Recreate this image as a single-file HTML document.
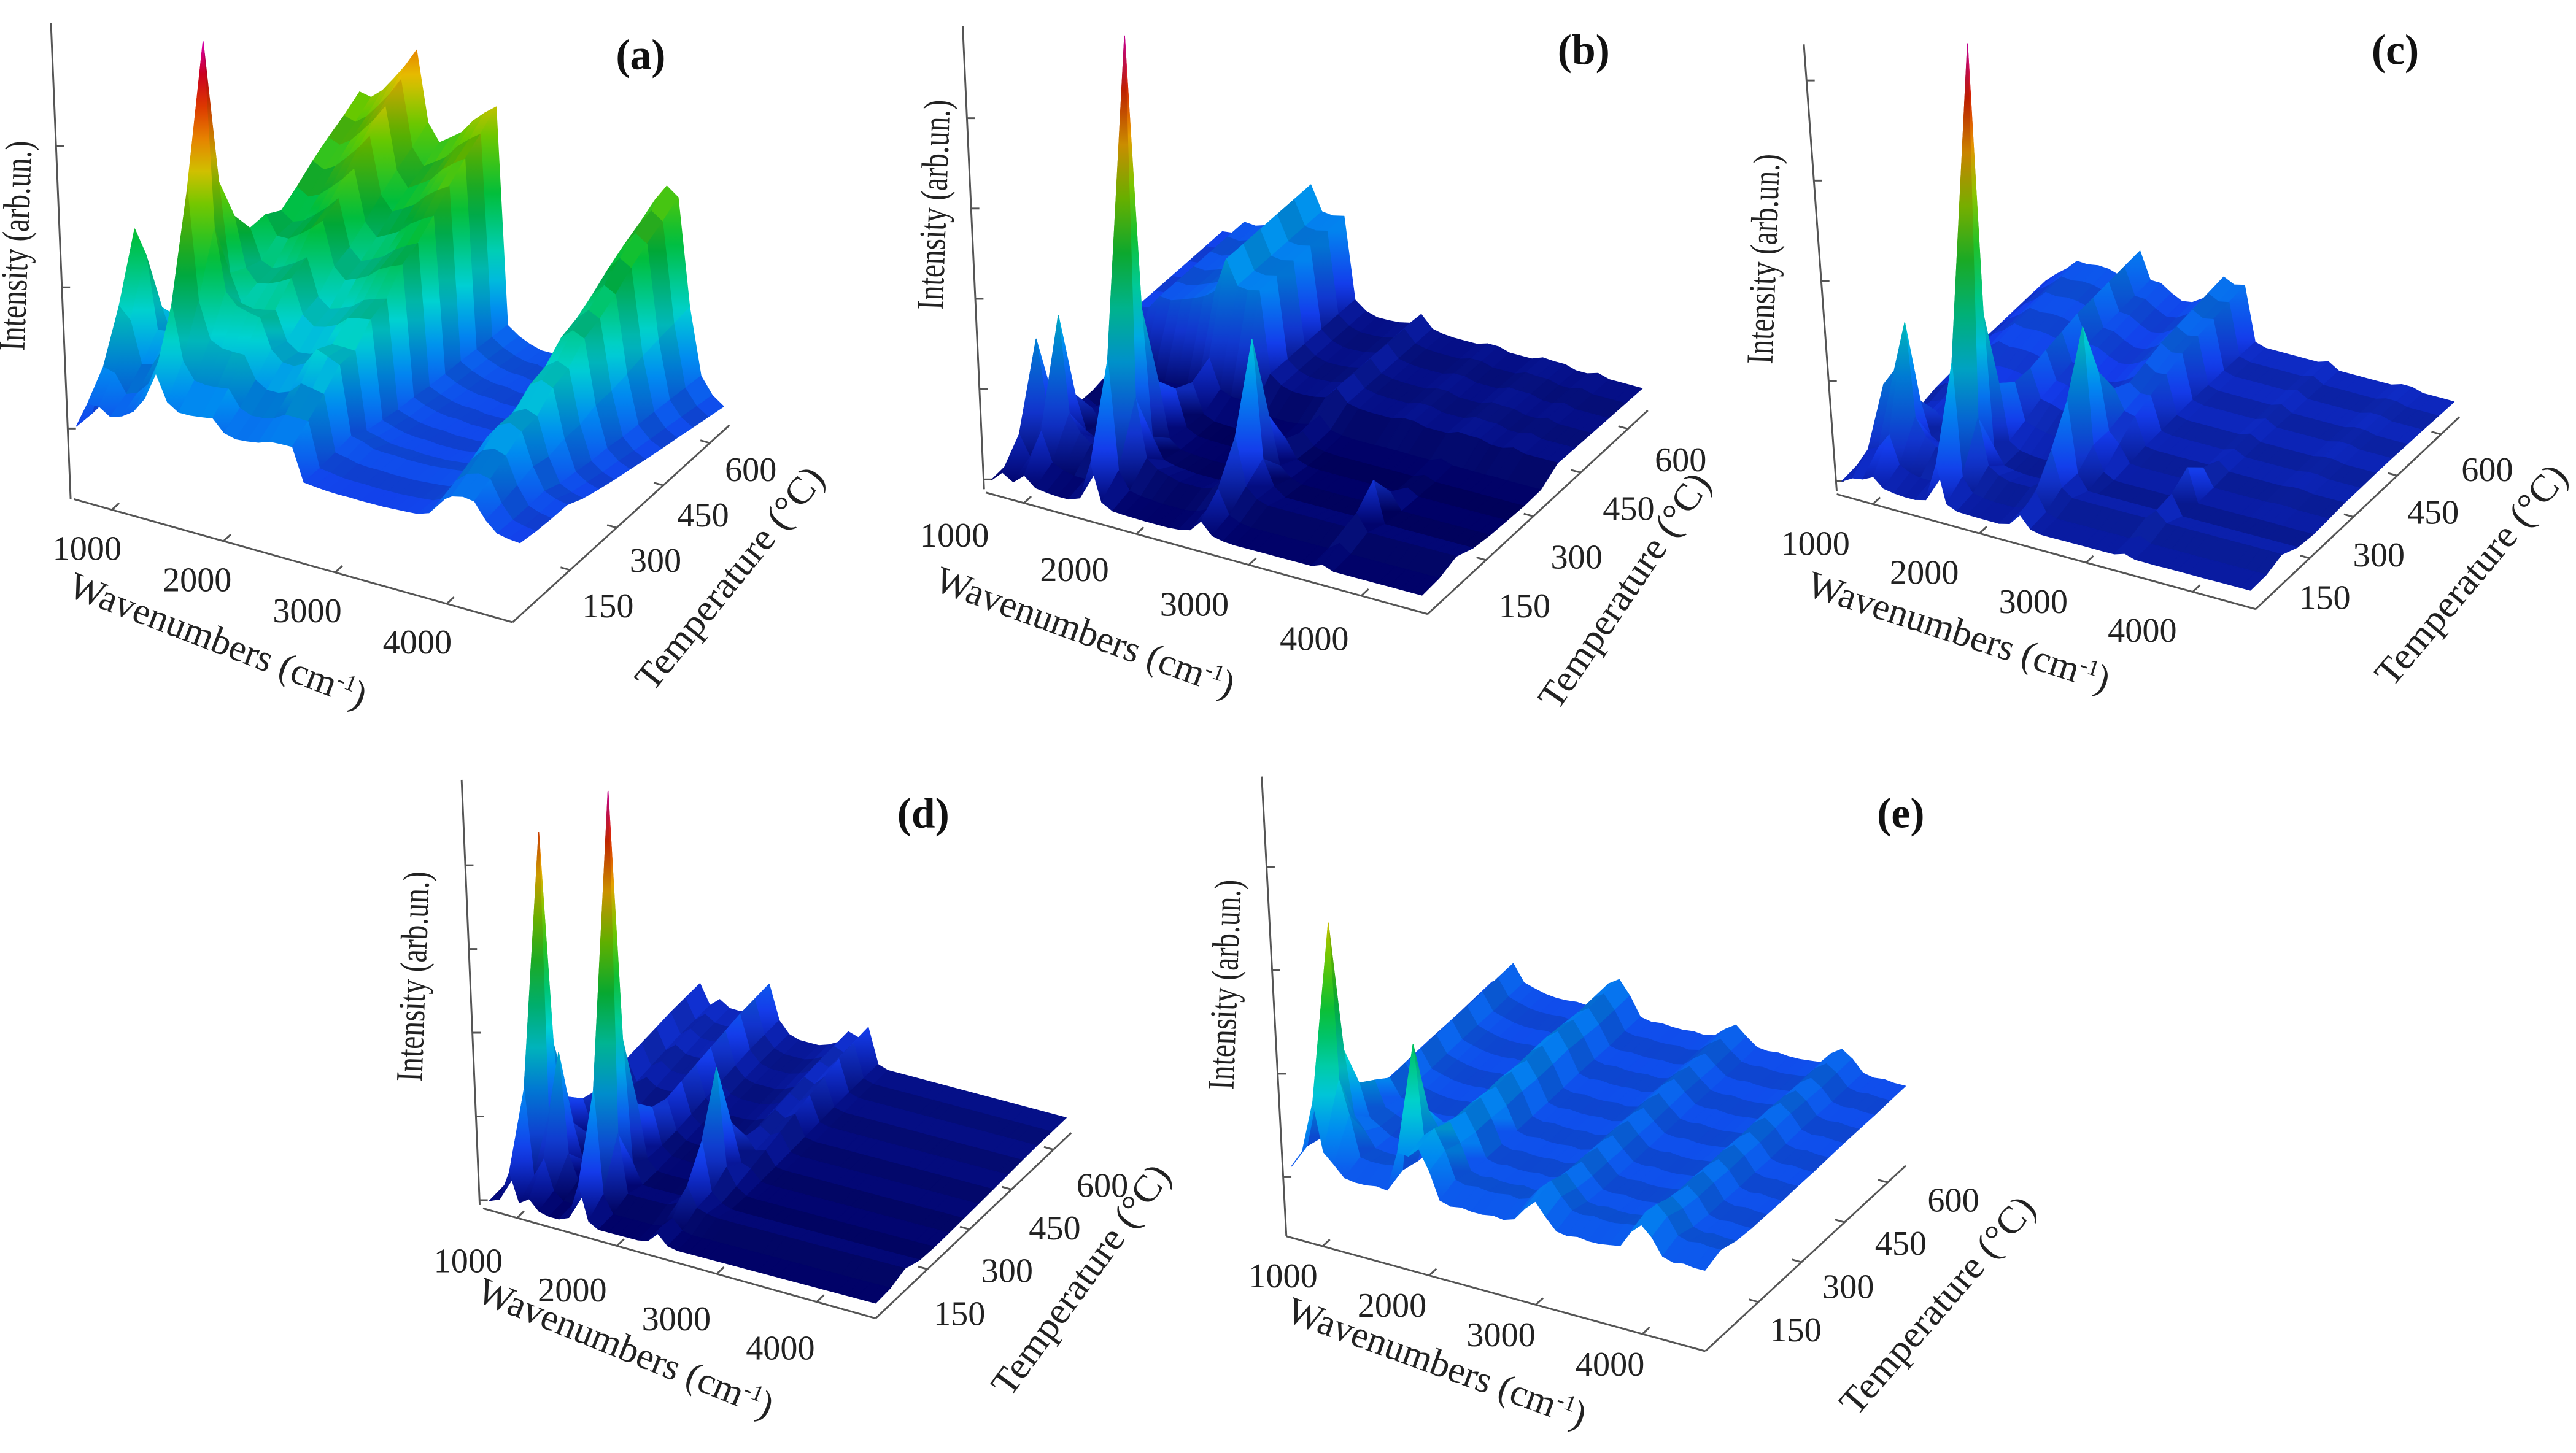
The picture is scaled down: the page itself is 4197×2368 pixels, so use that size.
<!DOCTYPE html>
<html>
<head>
<meta charset="utf-8">
<title>Temperature-dependent IR spectra – 3D surfaces</title>
<style>
html,body{margin:0;padding:0;background:#fff;}
svg{display:block;}
text{font-family:"Liberation Serif",serif;fill:#222;}
.tick{font-size:21px;}
.title{font-size:23px;}
.letter{font-size:26px;font-weight:bold;fill:#111;}
.axis{stroke:#555;stroke-width:1.1;fill:none;}
</style>
</head>
<body>
<svg id="fig" width="4197" height="2368" viewBox="0 0 1568 885" preserveAspectRatio="none" xmlns="http://www.w3.org/2000/svg">
<defs id="grads"></defs>
<rect x="0" y="0" width="1568" height="885" fill="#fff"/>
</svg>
<script>
// ---------- shared grid ----------
const wavenumbers = [700,800,900,1000,1100,1200,1300,1400,1500,1600,1700,1800,1900,2000,2100,2200,2300,2400,2500,2600,2700,2800,2900,3000,3100,3200,3300,3400,3500,3600,3700,3800,3900,4000,4100,4200,4300,4400,4500,4600];
const temperatures = [0,50,100,150,200,250,300,350,400,450,500,550,600,650];
const wnTicks = [1000,2000,3000,4000];
const tTicks = [150,300,450,600];

// ---------- panel (a) ----------
const aSpec1 = [10,100,80,30,25,40,90,195,80,40,30,25,20,15,12,10,12,20,15,10,8,8,6,6,6,6,6,6,6,6,6,6,8,8,8,6,6,5,5,5];
const aGain1 = [0.15,0.3,0.6,1,0.5,0.3,0.2,0.15,0.1,0.1,0.1,0.1,0.1,0.1];
const aSpec2 = [5,20,40,60,80,95,110,120,130,140,150,160,172,130,120,125,130,138,145,151,20,15,12,10,10,8,8,8,10,12,15,30,90,120,130,125,60,20,10,5];
const aGain2 = [0.15,0.2,0.25,0.3,0.35,0.45,0.5,0.6,0.65,0.72,0.8,0.87,0.93,1];

// ---------- panel (b) ----------
const bSpec1 = [5,70,30,88,30,20,15,15,40,269,50,15,10,8,6,6,6,6,6,6,6,6,6,6,6,6,6,6,6,6,6,6,6,6,6,6,6,6,6,6];
const bGain1 = [0.1,0.3,1,0.35,0.15,0.1,0.08,0.08,0.08,0.08,0.08,0.08,0.08,0.08];
const bSpec2 = [0,0,0,0,0,0,0,0,0,0,0,0,0,0,0,0,0,5,20,91,20,5,0,0,0,0,0,0,0,0,25,0,0,0,0,0,0,0,0,0];
const bGain2 = [0.1,0.2,0.4,1,0.4,0.15,0.1,0.1,0.1,0.1,0.1,0.1,0.1,0.1];
const bSpec3 = [25,30,34,38,42,45,48,51,54,57,60,62,64,15,10,8,8,8,8,8,8,8,8,8,8,10,10,8,8,8,8,10,10,8,8,10,8,8,8,8];
const bGain3 = [0,0,0,0,0,0,0,0.1,1,1,1,1,1,1];

// ---------- panel (c) ----------
const cSpec1 = [8,45,55,86,30,20,15,15,30,266,40,12,8,6,6,6,6,6,6,6,6,6,6,6,6,6,6,6,6,6,6,6,6,6,6,6,6,6,6,6];
const cGain1 = [0.1,0.3,1,0.35,0.15,0.1,0.08,0.08,0.08,0.08,0.08,0.08,0.08,0.08];
const cSpec2 = [0,0,0,0,0,0,0,0,0,0,0,0,0,0,0,0,15,86,15,0,0,0,0,0,0,0,0,20,0,0,0,0,0,0,0,0,0,0,0,0];
const cGain2 = [0.1,0.15,0.3,0.6,1,0.5,0.2,0.1,0.1,0.1,0.1,0.1,0.1,0.1];
const cSpec3 = [15,18,22,26,30,32,32,30,28,28,30,32,28,25,26,30,34,38,42,45,12,10,10,10,10,10,10,10,8,8,8,8,8,8,10,10,8,8,8,8];
const cGain3 = [0,0,0,0,0.1,0.3,0.5,0.6,0.7,0.8,0.85,0.9,0.95,1];

// ---------- panel (d) ----------
const dSpec1 = [5,30,211,40,80,20,5,5,30,247,40,5,5,5,5,5,5,5,5,5,5,5,5,5,5,5,5,5,5,5,5,5,5,5,5,5,5,5,5,5];
const dGain1 = [0.1,0.3,1,0.35,0.15,0.1,0.08,0.08,0.08,0.08,0.08,0.08,0.08,0.08];
const dSpec2 = [0,0,0,0,0,0,0,0,0,0,0,0,0,0,0,0,12,72,12,0,0,0,0,0,0,0,0,0,0,0,0,0,0,0,0,0,0,0,0,0];
const dGain2 = [0.1,0.1,0.2,0.5,1,0.4,0.15,0.1,0.1,0.1,0.1,0.1,0.1,0.1];
const dSpec3 = [10,12,14,16,18,19,20,21,22,22,18,14,12,12,12,14,16,18,22,31,10,8,8,8,8,8,8,8,8,8,8,8,8,8,8,8,8,8,8,8];
const dGain3 = [0,0,0.05,0.1,0.2,0.3,0.4,0.5,0.6,0.7,0.8,0.9,0.95,1];

// ---------- panel (e) ----------
const eSpec1 = [5,40,143,50,30,5,5,5,5,5,81,5,5,5,5,5,5,5,5,5,5,5,5,5,5,5,5,5,5,5,5,5,5,5,5,5,5,5,5,5];
const eGain1 = [0.3,1,0.4,0.2,0.15,0.1,0.1,0.1,0.1,0.1,0.1,0.1,0.1,0.1];
const eSpec2 = [6,6,7,6,6,7,6,6,7,6,8,30,36,24,8,6,7,6,6,7,6,8,16,22,14,7,6,7,6,6,7,8,18,24,18,8,6,7,6,6];
const eGain2 = [1,1,0.95,0.9,0.9,0.85,0.85,0.8,0.8,0.8,0.75,0.7,0.7,0.7];

// ---------- layout (positions, not data) ----------
const panels = [
 {id:'a', O:[43,261], U:[277,72], V:[124,-79], comps:[[aSpec1,aGain1],[aSpec2,aGain2]], cmax:235, coff:0.12,
  vert:[[31,14],[43,304]], wnAx:[[45,304],[312,379]], tAx:[[312,379],[444,259]], iStep:86,
  wnLab:[[53,334],[254,391]], tLab:[[370,369],[457,286]],
  wnTitle:[130,397,21], tTitle:[450,357,-51], iTitle:[17,150], letter:[390,34]},
 {id:'b', O:[600,292], U:[269,72], V:[134,-118], comps:[[bSpec1,bGain1],[bSpec2,bGain2],[bSpec3,bGain3]], cmax:275, coff:0.0,
  vert:[[586,16],[599,298]], wnAx:[[600,300],[869,374]], tAx:[[869,374],[1003,250]], iStep:55,
  wnLab:[[581,326],[800,389]], tLab:[[928,369],[1023,280]],
  wnTitle:[658,392,20], tTitle:[995,364,-56], iTitle:[576,125], letter:[964,31]},
 {id:'c', O:[1118,293], U:[255,68], V:[124,-107], comps:[[cSpec1,cGain1],[cSpec2,cGain2],[cSpec3,cGain3]], cmax:272, coff:0.05,
  vert:[[1098,27],[1118,299]], wnAx:[[1118,301],[1373,371]], tAx:[[1373,371],[1497,254]], iStep:61,
  wnLab:[[1105,331],[1304,384]], tLab:[[1415,364],[1514,286]],
  wnTitle:[1190,392,18], tTitle:[1510,355,-50], iTitle:[1081,158], letter:[1458,31]},
 {id:'d', O:[295,731], U:[241,64], V:[116,-105], comps:[[dSpec1,dGain1],[dSpec2,dGain2],[dSpec3,dGain3]], cmax:255, coff:0.0,
  vert:[[281,475],[292,734]], wnAx:[[294,736],[533,803]], tAx:[[533,803],[652,690]], iStep:51,
  wnLab:[[285,768],[475,821]], tLab:[[584,800],[671,722]],
  wnTitle:[378,828,22], tTitle:[664,784,-54], iTitle:[259,595], letter:[562,496]},
 {id:'e', O:[783,717], U:[258,65], V:[122,-115], comps:[[eSpec1,eGain1],[eSpec2,eGain2]], cmax:230, coff:0.13,
  vert:[[768,473],[783,753]], wnAx:[[783,753],[1038,823]], tAx:[[1038,823],[1160,710]], iStep:63,
  wnLab:[[781,777],[980,831]], tLab:[[1093,810],[1189,731]],
  wnTitle:[872,837,20], tTitle:[1185,800,-49], iTitle:[753,600], letter:[1157,496]}
];

const WN_MIN = 650, WN_MAX = 4650, T_MIN = 0, T_MAX = 650;
const AX_WN = [660,4590], AX_T = [-35,663];
const NS = 'http://www.w3.org/2000/svg';
const svg = document.getElementById('fig');
const defs = document.getElementById('grads');
let gradId = 0;

const stops = [[0,[0,0,100]],[0.12,[20,60,235]],[0.25,[0,140,240]],[0.35,[0,210,210]],[0.5,[0,190,60]],[0.62,[100,200,0]],[0.72,[230,190,0]],[0.82,[230,80,0]],[0.9,[200,0,0]],[1,[220,0,210]]];
function jet(t, shade){
  t = Math.max(0, Math.min(1, t));
  let k = 0;
  while (k < stops.length - 2 && t > stops[k+1][0]) k++;
  const a = stops[k], b = stops[k+1];
  const f = (t - a[0]) / (b[0] - a[0]);
  const c = a[1].map((v, j) => Math.round((v + (b[1][j] - v) * f) * shade));
  return 'rgb(' + c.join(',') + ')';
}
function el(tag, attrs, parent){
  const e = document.createElementNS(NS, tag);
  for (const k in attrs) e.setAttribute(k, attrs[k]);
  parent.appendChild(e);
  return e;
}
function lerp(p, q, f){ return [p[0] + (q[0]-p[0])*f, p[1] + (q[1]-p[1])*f]; }

panels.forEach(P => {
  const g = el('g', {}, svg);
  
  

  const H = temperatures.map((T, r) => wavenumbers.map((w, i) => {
    let s = 0;
    P.comps.forEach(c => { s += c[0][i] * c[1][r]; });
    return s;
  }));
  const xScale = w => (w - WN_MIN) / (WN_MAX - WN_MIN);
  const tScale = T => (T - T_MIN) / (T_MAX - T_MIN);
  const proj = (r, i) => {
    const tw = xScale(wavenumbers[i]), ft = tScale(temperatures[r]);
    return [P.O[0] + P.U[0]*tw + P.V[0]*ft, P.O[1] + P.U[1]*tw + P.V[1]*ft - H[r][i]];
  };
  const cval = h => P.coff + (1 - P.coff) * h / P.cmax;

  const axes = el('g', {}, g);
  
  
  const vl = el('line', {x1:P.vert[0][0], y1:P.vert[0][1], x2:P.vert[1][0], y2:P.vert[1][1], class:'axis'}, axes);
  
  
  const wl = el('line', {x1:P.wnAx[0][0], y1:P.wnAx[0][1], x2:P.wnAx[1][0], y2:P.wnAx[1][1], class:'axis'}, axes);
  
  
  const tl = el('line', {x1:P.tAx[0][0], y1:P.tAx[0][1], x2:P.tAx[1][0], y2:P.tAx[1][1], class:'axis'}, axes);
  
  

  const vb = P.vert[1], vt = P.vert[0];
  for (let k = 0; k < 6; k++){
    const y = P.O[1] - k * P.iStep;
    if (y < vt[1] + 10) break;
    const f = (y - vb[1]) / (vt[1] - vb[1]);
    const x = vb[0] + (vt[0] - vb[0]) * f;
    const tk = el('line', {x1:x, y1:y, x2:x+5, y2:y, class:'axis'}, axes);
    
    
  }
  const tdir = [P.tAx[1][0]-P.tAx[0][0], P.tAx[1][1]-P.tAx[0][1]];
  const tlen = Math.hypot(tdir[0], tdir[1]);
  const wdir = [P.wnAx[1][0]-P.wnAx[0][0], P.wnAx[1][1]-P.wnAx[0][1]];
  const wlen = Math.hypot(wdir[0], wdir[1]);
  wnTicks.forEach(v => {
    const p = lerp(P.wnAx[0], P.wnAx[1], (v - AX_WN[0]) / (AX_WN[1] - AX_WN[0]));
    const tk = el('line', {x1:p[0], y1:p[1], x2:p[0]+tdir[0]/tlen*6, y2:p[1]+tdir[1]/tlen*6, class:'axis'}, axes);
    
    
    const lp = lerp(P.wnLab[0], P.wnLab[1], (v - 1000) / 3000);
    const t = el('text', {x:lp[0], y:lp[1]+7, 'text-anchor':'middle', class:'tick'}, g);
    t.textContent = String(v);
    
    
  });
  tTicks.forEach(v => {
    const p = lerp(P.tAx[0], P.tAx[1], (v - AX_T[0]) / (AX_T[1] - AX_T[0]));
    const tk = el('line', {x1:p[0], y1:p[1], x2:p[0]-wdir[0]/wlen*6, y2:p[1]-wdir[1]/wlen*6, class:'axis'}, axes);
    
    
    const lp = lerp(P.tLab[0], P.tLab[1], (v - 150) / 450);
    const t = el('text', {x:lp[0], y:lp[1]+7, 'text-anchor':'middle', class:'tick'}, g);
    t.textContent = String(v);
    
    
  });

  const surf = el('g', {}, g);
  
  
  for (let r = temperatures.length - 2; r >= 0; r--){
    for (let i = 0; i < wavenumbers.length - 1; i++){
      const idx = [[r,i],[r,i+1],[r+1,i+1],[r+1,i]];
      const pts = idx.map(q => proj(q[0], q[1]));
      const hs = idx.map(q => H[q[0]][q[1]]);
      const hm = Math.max(...hs), hn = Math.min(...hs);
      const shade = r % 2 ? 0.88 : 1;
      let fill;
      if (hm - hn > 15){
        const kTop = hs.indexOf(hm), kBot = hs.indexOf(hn);
        const id = 'g' + (gradId++);
        const lg = el('linearGradient', {id:id, gradientUnits:'userSpaceOnUse', x1:0, x2:0, y1:pts[kTop][1].toFixed(1), y2:(pts[kBot][1]).toFixed(1)}, defs);
        for (let s = 0; s <= 8; s++){
          el('stop', {offset:(s/8).toFixed(3), 'stop-color':jet(cval(hm - (hm - hn)*s/8), shade)}, lg);
        }
        fill = 'url(#' + id + ')';
      } else {
        fill = jet(cval((hm + hn) / 2), shade);
      }
      const poly = el('polygon', {points:pts.map(p => p[0].toFixed(1)+','+p[1].toFixed(1)).join(' '), fill:fill, stroke:fill, 'stroke-width':0.5, 'stroke-linejoin':'round'}, surf);
      
      
    }
  }

  const wt = el('text', {x:P.wnTitle[0], y:P.wnTitle[1], 'text-anchor':'middle', class:'title', transform:'rotate('+P.wnTitle[2]+' '+P.wnTitle[0]+' '+P.wnTitle[1]+')', textLength:192, lengthAdjust:'spacingAndGlyphs'}, g);
  wt.innerHTML = 'Wavenumbers (cm<tspan baseline-shift="super" font-size="14">-1</tspan>)';
  
  
  const tt = el('text', {x:P.tTitle[0], y:P.tTitle[1], 'text-anchor':'middle', class:'title', transform:'rotate('+P.tTitle[2]+' '+P.tTitle[0]+' '+P.tTitle[1]+')', textLength:168, lengthAdjust:'spacingAndGlyphs'}, g);
  tt.textContent = 'Temperature (°C)';
  
  
  const it = el('text', {x:P.iTitle[0], y:P.iTitle[1], 'text-anchor':'middle', class:'title', transform:'rotate(-88 '+P.iTitle[0]+' '+P.iTitle[1]+')', textLength:128, lengthAdjust:'spacingAndGlyphs'}, g);
  it.textContent = 'Intensity (arb.un.)';
  
  
  const lt = el('text', {x:P.letter[0], y:P.letter[1]+8, 'text-anchor':'middle', class:'letter'}, g);
  lt.textContent = '(' + P.id + ')';
  
  
});
</script>
</body>
</html>
